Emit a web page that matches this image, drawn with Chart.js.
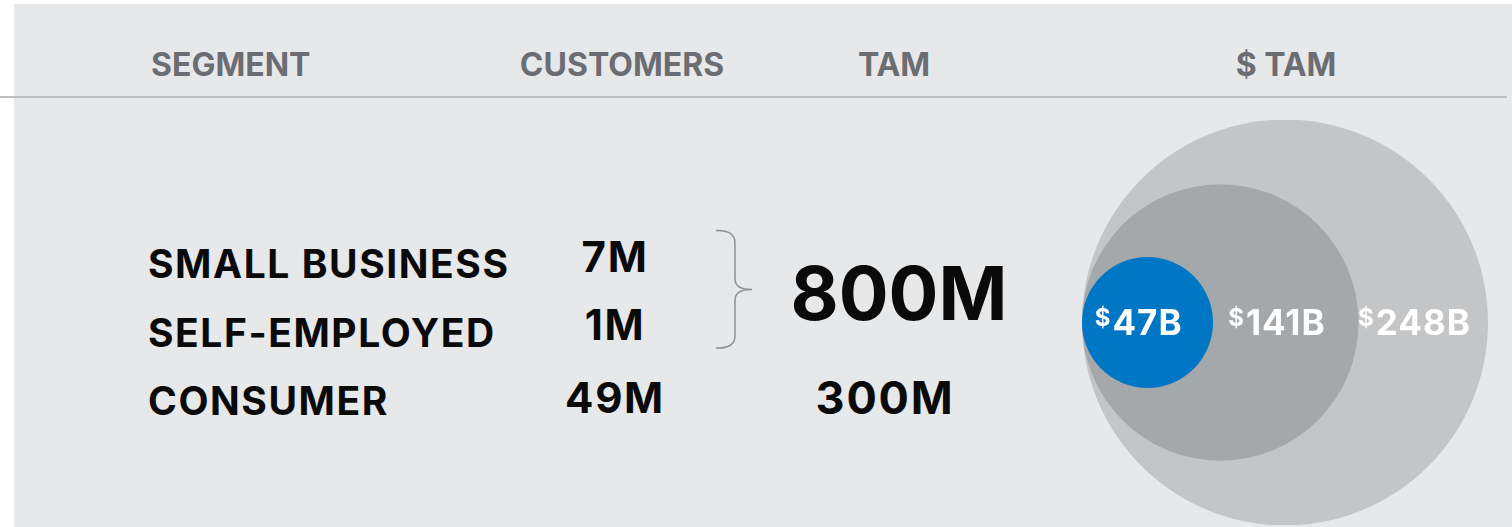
<!DOCTYPE html>
<html>
<head>
<meta charset="utf-8">
<script src="https://cdn.jsdelivr.net/npm/chart.js@4.4.0/dist/chart.umd.min.js"></script>
<style>
html,body{margin:0;padding:0;background:#fff;width:1512px;height:527px;overflow:hidden;}
body{position:relative;font-family:Inter,"Noto Sans",sans-serif;font-weight:700;color:#0a0a0a;}
#panel{position:absolute;left:14px;top:4px;width:1498px;height:523px;background:#e7e8ea;}
#rule{position:absolute;left:0;top:96px;width:1507px;height:2px;background:#bdbec1;}
.t{position:absolute;white-space:nowrap;line-height:1;letter-spacing:0.04em;}
.c{transform:translateX(-50%);}
.hd{color:#6c6d72;letter-spacing:0;}
.big{letter-spacing:0;}
#brace{position:absolute;left:0;top:0;}
#bubbleBox{position:absolute;left:1082px;top:120px;width:430px;height:405px;}
</style>
</head>
<body>
<div id="panel"></div>
<div id="rule"></div>
<svg id="brace" width="1512" height="527"><path d="M716 230.5 Q735 230 735 243 L735 279 Q735 289.5 752 289.5 Q735 289.5 735 300 L735 336 Q735 348.5 716 348" fill="none" stroke="#8f9094" stroke-width="1.5"/></svg>
<div id="texts"></div>
<div id="bubbleBox"><canvas id="bubbles" width="430" height="405"></canvas></div>
<script>
// cabeçalhos e tabela
const headers = ["SEGMENT", "CUSTOMERS", "TAM", "$ TAM"];
const segments = ["SMALL BUSINESS", "SELF-EMPLOYED", "CONSUMER"];
const customers = ["7M", "1M", "49M"];
const tamTotals = ["800M", "300M"];
// bolhas ($ TAM)
const tamValues = [47, 141, 248];
const tamLabels = ["$47B", "$141B", "$248B"];
const bubbleColors = ["#0077c5", "#a5a8ab", "#c4c5c7"];

const box = document.getElementById("texts");
function put(txt, x, baseline, size, cls){
    const d = document.createElement("div");
    d.className = "t " + (cls||"");
    d.textContent = txt;
    d.style.fontSize = size + "px";
    d.style.left = x + "px";
    d.style.top = (baseline - 0.863*size) + "px";
    box.appendChild(d);
}

put(headers[0], 151, 77, 32, "hd");
put(headers[1], 622, 77, 32, "hd c");
put(headers[2], 894, 77, 32, "hd c");
put(headers[3], 1286, 77, 32, "hd c");

const segBase = [278, 347, 415];
segments.forEach((s,i)=> put(s, 148, segBase[i], 39));
const custBase = [272.5, 340, 413];
customers.forEach((s,i)=> put(s, 615, custBase[i], 42, "c"));
put(tamTotals[0], 899, 320, 74, "c big");
put(tamTotals[1], 885, 414, 45, "c");

// raio cresce com o valor (expoente ~2/3)
const maxV = Math.max(...tamValues);
const raio = v => 203*Math.pow(v/maxV, 0.68);
const pontos = tamValues.map((v,i)=>({x:raio(v), y:0, r:raio(v), label:tamLabels[i], cor:bubbleColors[i]}))
    .sort((a,b)=>b.r-a.r);

const rotulos = {
    id:"rotulos",
    afterDatasetsDraw(chart){
        const ctx = chart.ctx;
        const els = chart.getDatasetMeta(0).data.map((el,i)=>({el, p:pontos[i]}))
            .sort((a,b)=>a.p.r-b.p.r);
        let esquerda = null;
        els.forEach(({el,p})=>{
            const r = el.options.radius;
            const ini = esquerda===null ? el.x - r : esquerda;
            const fim = el.x + r;
            const cx = (ini+fim)/2;
            const base = el.y + 12;
            const num = p.label.replace("$","");
            ctx.save();
            ctx.fillStyle = "#ffffff";
            ctx.textBaseline = "alphabetic";
            ctx.font = "700 35px Inter";
            ctx.letterSpacing = "1px";
            const w = ctx.measureText(num).width;
            ctx.textAlign = "left";
            ctx.fillText(num, cx - w/2, base);
            ctx.font = "700 24px Inter";
            ctx.letterSpacing = "0px";
            ctx.textAlign = "right";
            ctx.fillText("$", cx - w/2 - 2, base - 9);
            ctx.restore();
            esquerda = fim;
        });
    }
};

new Chart(document.getElementById("bubbles"), {
    type:"bubble",
    data:{datasets:[{
        data: pontos,
        backgroundColor: pontos.map(p=>p.cor),
        borderWidth:0,
        hoverBorderWidth:0,
        hoverRadius:0,
        clip:false
    }]},
    options:{
        responsive:false,
        animation:false,
        events:[],
        layout:{padding:0, autoPadding:false},
        plugins:{legend:{display:false}, tooltip:{enabled:false}},
        scales:{
            x:{display:false, min:0, max:430},
            y:{display:false, min:-1, max:1}
        }
    },
    plugins:[rotulos]
});
</script>
</body>
</html>
